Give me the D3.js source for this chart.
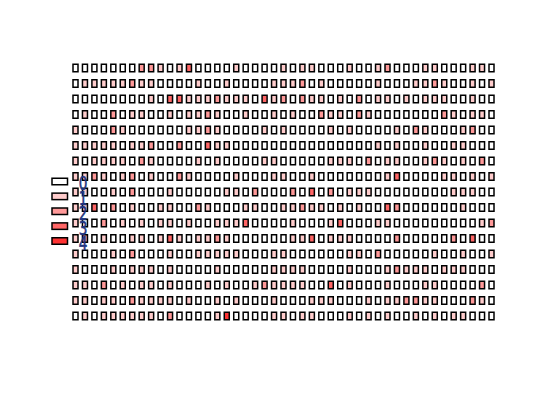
<!DOCTYPE html>
<html>
<head>
<meta charset="utf-8">
<script src="https://cdn.jsdelivr.net/npm/d3@7"></script>
<style>
  html, body { margin: 0; padding: 0; background: #ffffff; }
  svg { display: block; }
</style>
</head>
<body>
<div id="chart"></div>
<script>
// ---- data ----
const columnIds = [1,2,3,4,5,6,7,8,9,10,11,12,13,14,15,16,17,18,19,20,21,22,23,24,25,26,27,28,29,30,31,32,33,34,35,36,37,38,39,40,41,42,43,44,45];
const rowIds = [1,2,3,4,5,6,7,8,9,10,11,12,13,14,15,16,17];
const cellValues = [
  [0,0,0,0,0,0,0,2,2,1,0, 1,3,0,0,0,0,1,0,0,0,0,1, 0,1,1,0,0,0,1,0,0,1,2, 0,0,0,1,1,0,0,0,1,1,0],
  [0,1,1,1,1,1,2,1,1,0,0, 0,0,1,0,0,1,0,0,0,0,1,1, 1,2,0,1,0,0,0,0,0,1,0, 0,0,1,1,2,1,0,0,1,0,1],
  [0,0,0,0,0,0,0,0,1,0,3, 3,1,1,1,2,1,1,1,0,3,1,2, 0,2,1,1,0,1,0,2,0,1,1, 0,1,0,1,1,1,0,0,1,0,0],
  [0,1,0,0,2,0,1,1,0,0,1, 0,1,1,2,1,0,0,1,0,0,1,0, 1,0,0,2,1,1,0,2,1,0,0, 0,0,0,0,0,2,1,0,1,1,0],
  [1,0,0,0,2,1,0,0,0,0,0, 0,1,1,2,1,0,0,0,0,1,0,1, 0,0,0,0,1,0,1,0,0,0,0, 1,0,2,1,0,0,0,1,2,0,0],
  [1,1,1,1,1,0,1,1,2,0,0, 2,0,0,3,1,1,0,0,0,0,0,0, 0,0,0,0,0,0,0,0,0,1,0, 1,0,0,1,0,0,1,1,0,0,0],
  [1,0,1,1,1,1,0,2,1,0,0, 0,0,1,0,1,0,0,0,0,1,1,0, 0,0,0,0,1,1,1,0,2,0,1, 1,0,0,1,2,1,0,1,0,2,0],
  [1,1,2,1,0,1,2,0,1,0,0, 2,1,0,0,0,0,1,0,0,0,1,1, 0,0,1,0,0,0,0,0,0,0,1, 3,0,0,0,0,1,1,0,1,0,1],
  [1,1,0,0,1,0,2,0,0,0,1, 0,0,0,0,0,1,1,0,2,0,0,0, 2,0,3,0,2,0,1,1,1,0,0, 0,0,0,0,0,0,1,1,1,0,0],
  [1,1,3,0,2,0,1,0,0,1,1, 0,0,2,1,0,0,0,1,1,0,0,1, 1,2,1,1,0,1,0,1,0,0,3, 2,0,0,0,0,0,0,1,0,0,0],
  [1,0,0,2,0,1,0,1,0,1,1, 0,1,0,0,1,1,1,3,0,0,0,0, 1,0,0,0,1,3,0,0,0,1,1, 0,0,0,0,0,0,0,0,0,1,2],
  [1,2,0,1,0,0,1,1,0,1,3, 1,0,1,1,2,1,0,0,0,0,0,0, 1,1,3,0,1,1,1,0,0,0,0, 2,0,0,0,0,0,2,0,3,0,0],
  [1,0,0,0,1,0,2,0,0,0,1, 0,0,1,1,1,1,1,0,0,0,1,1, 0,0,0,0,0,0,1,1,0,2,0, 0,0,0,0,1,0,0,1,0,0,1],
  [1,0,0,0,1,0,1,1,1,0,1, 0,0,0,0,1,0,0,0,0,0,1,1, 1,1,0,0,0,0,1,0,0,0,1, 2,1,1,1,0,1,1,1,0,0,0],
  [1,1,0,2,0,1,0,1,1,0,1, 0,0,0,1,0,1,0,0,1,2,1,1, 1,1,0,0,3,0,1,0,0,0,1, 0,0,0,1,1,0,0,0,0,2,0],
  [1,1,0,1,1,0,2,1,1,1,1, 0,1,0,0,1,0,1,0,0,0,1,0, 0,0,1,1,1,0,0,0,1,0,1, 1,2,2,1,1,0,0,0,2,1,0],
  [0,1,0,1,1,1,1,1,1,0,2, 0,0,0,0,1,4,0,0,0,0,1,1, 0,1,1,0,0,0,1,0,1,0,1, 0,0,1,0,1,0,1,1,0,0,0]
];
const legendLevels = [0,1,2,3,4];
const legendLabels = ["0","1","2","3","4"];
const levelColors = ["#FFFFFF","#FFCCCC","#FF9999","#FF6666","#FF3333"];

// ---- drawing ----
const W = 540, H = 400;
const svg = d3.select("#chart").append("svg")
  .attr("width", W).attr("height", H)
  .style("background", "#ffffff");

const x = d3.scaleLinear().domain([1, 45]).range([75.5, 491.5]);
const y = d3.scaleLinear().domain([1, 17]).range([68, 316]);
const color = d3.scaleOrdinal().domain(legendLevels).range(levelColors);

const cellW = 5, cellH = 7.5;

const cells = [];
cellValues.forEach((row, ri) => {
  row.forEach((v, ci) => {
    cells.push({ r: rowIds[ri], c: columnIds[ci], v: v });
  });
});

svg.append("g").selectAll("rect")
  .data(cells)
  .join("rect")
  .attr("x", d => x(d.c) - cellW / 2)
  .attr("y", d => y(d.r) - cellH / 2)
  .attr("width", cellW)
  .attr("height", cellH)
  .attr("fill", d => color(d.v))
  .attr("stroke", "#000")
  .attr("stroke-width", 1.5);

// legend
const ly = d3.scaleLinear().domain([0, 4]).range([181.5, 241]);
const lg = svg.append("g");
lg.selectAll("rect")
  .data(legendLevels)
  .join("rect")
  .attr("x", 52)
  .attr("y", d => ly(d) - 3.25)
  .attr("width", 15.5)
  .attr("height", 6.5)
  .attr("fill", d => color(d))
  .attr("stroke", "#000")
  .attr("stroke-width", 1.5);

lg.selectAll("text")
  .data(legendLevels)
  .join("text")
  .attr("transform", d => `translate(83,${ly(d) + 2}) scale(0.85,1.2)`)
  .attr("dy", "0.36em")
  .attr("text-anchor", "middle")
  .attr("font-family", "DejaVu Sans, sans-serif")
  .attr("font-size", 16)
  .attr("fill", "#1f3580")
  .attr("stroke", "#1f3580")
  .attr("stroke-width", 0.5)
  .text((d, i) => legendLabels[i]);
</script>
</body>
</html>
